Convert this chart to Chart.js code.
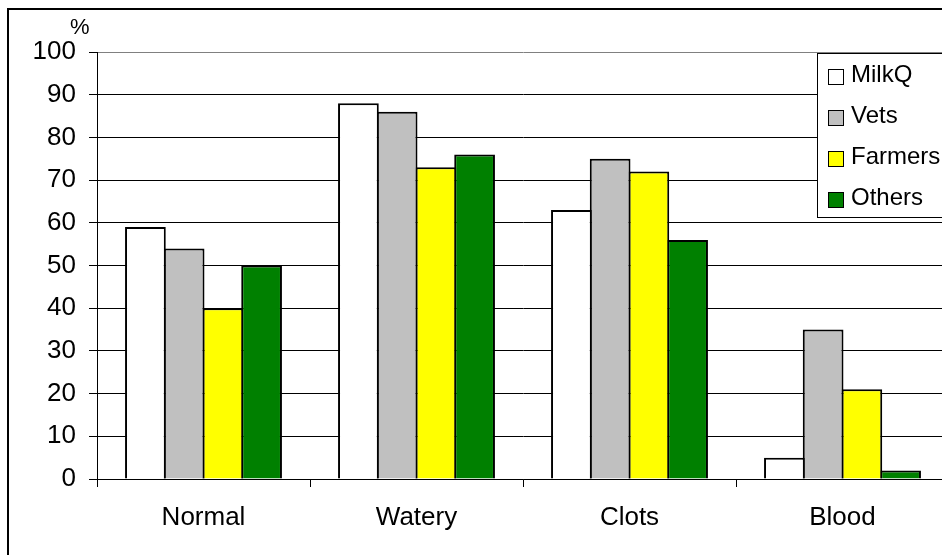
<!DOCTYPE html>
<html>
<head>
<meta charset="utf-8">
<script src="https://cdn.jsdelivr.net/npm/chart.js@4.4.1/dist/chart.umd.min.js"></script>
<style>
  html, body { margin: 0; padding: 0; background: #fff; overflow: hidden; }
  #frame { position: absolute; left: 7px; top: 8px; width: 1000px; height: 600px; border: 2px solid #000; }
  #wrap { position: absolute; left: 0; top: 0; }
</style>
</head>
<body>
<div id="frame"></div>
<div id="wrap"><canvas id="chart" width="1000" height="555"></canvas></div>
<script>
// données
const categories = ['Normal', 'Watery', 'Clots', 'Blood'];
const seriesNames = ['MilkQ', 'Vets', 'Farmers', 'Others'];
const milkq = [59, 88, 63, 5];
const vets = [54, 86, 75, 35];
const farmers = [40, 73, 72, 21];
const others = [50, 76, 56, 2];
const yTicks = [0, 10, 20, 30, 40, 50, 60, 70, 80, 90, 100];
const colors = ['#FFFFFF', '#C0C0C0', '#FFFF00', '#008000'];

const FONT = '"Liberation Sans", Arial, sans-serif';

// légende + symbole %
const extras = {
  id: 'extras',
  afterDraw(chart) {
    const ctx = chart.ctx;
    ctx.save();
    // %
    ctx.fillStyle = '#000';
    ctx.font = '22px ' + FONT;
    ctx.textAlign = 'left';
    ctx.textBaseline = 'alphabetic';
    ctx.fillText('%', 70, 34);

    // boîte de légende
    ctx.fillStyle = '#fff';
    ctx.fillRect(817.5, 53.5, 200, 164);
    ctx.strokeStyle = '#000';
    ctx.lineWidth = 1;
    ctx.strokeRect(817.5, 53.5, 200, 164);

    ctx.font = '24px ' + FONT;
    chart.data.datasets.forEach((ds, i) => {
      const top = 69 + i * 41;
      ctx.fillStyle = ds.backgroundColor;
      ctx.fillRect(828.5, top + 0.5, 15, 15);
      ctx.strokeStyle = '#000';
      ctx.strokeRect(828.5, top + 0.5, 15, 15);
      ctx.fillStyle = '#000';
      ctx.fillText(ds.label, 851, top + 13);
    });
    ctx.restore();
  }
};

// barres légèrement élargies pour que les bordures voisines se superposent
const datasets = [milkq, vets, farmers, others].map((vals, i) => ({
  label: seriesNames[i],
  data: vals,
  backgroundColor: colors[i],
  borderColor: '#000',
  borderWidth: 2,
  borderSkipped: 'start',
  inflateAmount: 0,
  categoryPercentage: 4 / 5.5,
  barPercentage: 1.052
}));

new Chart(document.getElementById('chart'), {
  type: 'bar',
  data: { labels: categories, datasets: datasets },
  options: {
    responsive: false,
    animation: false,
    events: [],
    layout: { padding: { left: 0, top: 52, right: 51, bottom: 0 } },
    plugins: {
      legend: { display: false },
      tooltip: { enabled: false }
    },
    scales: {
      x: {
        afterFit(scale) { scale.height = 76; },
        grid: {
          offset: true,
          drawOnChartArea: false,
          drawTicks: true,
          tickLength: 8,
          tickColor: '#000',
          color: '#000'
        },
        border: { color: '#000', width: 1 },
        ticks: {
          color: '#000',
          font: { family: FONT, size: 26 },
          padding: 15
        }
      },
      y: {
        min: 0,
        max: 100,
        afterFit(scale) { scale.width = 97; },
        afterBuildTicks(scale) { scale.ticks = yTicks.map(v => ({ value: v })); },
        grid: {
          color: ctx => (ctx.tick && ctx.tick.value === 100 ? '#808080' : '#000'),
          lineWidth: 1,
          tickLength: 8,
          tickColor: '#000'
        },
        border: { color: '#000', width: 1 },
        ticks: {
          color: '#000',
          font: { family: FONT, size: 26 },
          padding: 13
        }
      }
    }
  },
  plugins: [extras]
});
</script>
</body>
</html>
